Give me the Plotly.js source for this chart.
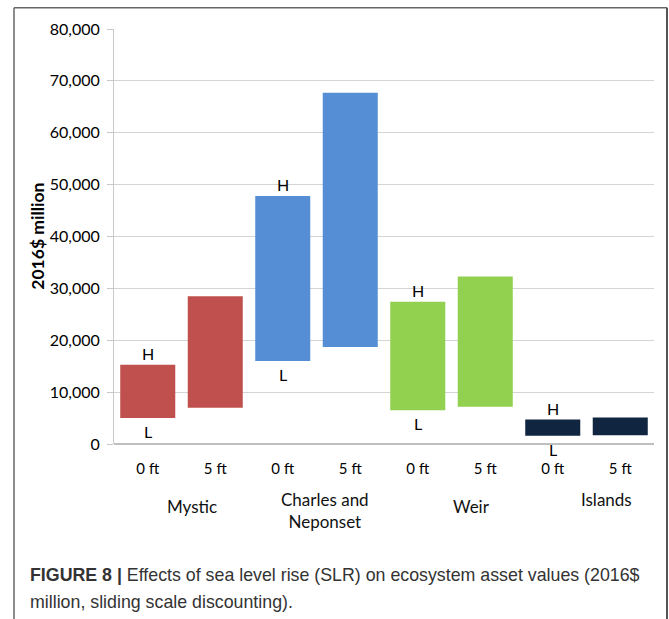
<!DOCTYPE html>
<html>
<head>
<meta charset="utf-8">
<script src="https://cdn.plot.ly/plotly-3.0.1.min.js"></script>
<style>
html,body{margin:0;padding:0;background:#fff;}
#chart{width:669px;height:619px;}
</style>
</head>
<body>
<div id="chart"></div>
<script>
// ---- data ----
const slrLabels = ["0 ft","5 ft","0 ft","5 ft","0 ft","5 ft","0 ft","5 ft"];
const groups = ["Mystic","Charles and<br>Neponset","Weir","Islands"];
const groupColors = ["#C0504D","#558ED5","#92D050","#10253F"];
const lowValues  = [5000, 7000, 16000, 18700, 6500, 7200, 1600, 1700];
const highValues = [15300, 28500, 47800, 67700, 27400, 32300, 4700, 5100];
const yTickVals = [0,10000,20000,30000,40000,50000,60000,70000,80000];
const captionLines = ["<b>FIGURE 8 |</b> Effects of sea level rise (SLR) on ecosystem asset values (2016$",
                      "million, sliding scale discounting)."];

const traces = groups.map((g, gi) => {
  const idx = [gi*2, gi*2+1];
  return {
    type: "bar",
    x: idx,
    y: idx.map(i => highValues[i] - lowValues[i]),
    base: idx.map(i => lowValues[i]),
    marker: {color: groupColors[gi], line: {width: 0}},
    width: 0.815,
    hoverinfo: "skip",
    showlegend: false
  };
});

const chartFont = "Lato, 'Liberation Sans', sans-serif";
const annotations = [];
// H / L labels on the 0 ft bars
groups.forEach((g, gi) => {
  const i = gi*2;
  annotations.push({x: i, y: highValues[i], xref: "x", yref: "y", text: "H", showarrow: false,
    yanchor: "bottom", yshift: 0, font: {family: chartFont, size: 16, color: "#000"}});
  annotations.push({x: i, y: lowValues[i], xref: "x", yref: "y", text: "L", showarrow: false,
    yanchor: "top", yshift: -2, font: {family: chartFont, size: 16, color: "#000"}});
});
// group labels
const groupX = [0.65, 2.63, 4.80, 6.80];
const groupYpx = [507, 511, 507, 500];
groups.forEach((g, gi) => {
  annotations.push({x: groupX[gi], xref: "x", y: (444.3 - groupYpx[gi]) / 415, yref: "paper",
    text: g, showarrow: false, yanchor: "middle", xanchor: "center",
    font: {family: chartFont, size: 17, color: "#111"}});
});
// y axis title
annotations.push({x: (38 - 114) / 540, xref: "paper", y: (444.3 - 237) / 415, yref: "paper",
  text: "<b>2016$ million</b>", textangle: -90, showarrow: false, xanchor: "center", yanchor: "middle",
  font: {family: chartFont, size: 17.5, color: "#000"}});
// caption
const captionY = [575, 602];
captionLines.forEach((t, li) => {
  annotations.push({x: (28 - 114) / 540, xref: "paper", y: (444.3 - captionY[li]) / 415, yref: "paper",
    text: t, showarrow: false, xanchor: "left", yanchor: "middle", align: "left",
    font: {family: "'Liberation Sans', Arial, sans-serif", size: 17.8, color: "#333"}});
});

const px = v => (v - 114) / 540;
const py = v => (444.3 - v) / 415;
const borderLine = {color: "#666", width: 1.5};
const shapes = [
  {type: "line", xref: "paper", yref: "paper", x0: px(14), x1: px(14), y0: py(8), y1: py(625), line: borderLine},
  {type: "line", xref: "paper", yref: "paper", x0: px(14), x1: px(667), y0: py(8), y1: py(8), line: borderLine},
  {type: "line", xref: "paper", yref: "paper", x0: px(667), x1: px(667), y0: py(8), y1: py(625), line: {color: "#555", width: 2}}
];

const layout = {
  width: 669, height: 619,
  margin: {l: 114, r: 15, t: 29, b: 174.7},
  paper_bgcolor: "#fff", plot_bgcolor: "#fff",
  bargap: 0.185,
  xaxis: {
    range: [-0.5, 7.5], tickvals: [0,1,2,3,4,5,6,7], ticktext: slrLabels,
    showgrid: false, zeroline: false, showline: false, ticks: "",
    ticklabelstandoff: 14,
    tickfont: {family: chartFont, size: 15, color: "#000"}, fixedrange: true
  },
  yaxis: {
    range: [0, 80000], tickvals: yTickVals, tickformat: ",d",
    showgrid: true, gridcolor: "#d4d4d4", gridwidth: 1,
    zeroline: true, zerolinecolor: "#bfbfbf", zerolinewidth: 1.5,
    showline: true, linecolor: "#c8c8c8", linewidth: 1,
    ticks: "outside", ticklen: 6, tickcolor: "#c8c8c8",
    ticklabelstandoff: 4,
    tickfont: {family: chartFont, size: 16, color: "#000"}, fixedrange: true
  },
  annotations: annotations,
  shapes: shapes
};

Plotly.newPlot("chart", traces, layout, {displayModeBar: false, staticPlot: true});
</script>
</body>
</html>
